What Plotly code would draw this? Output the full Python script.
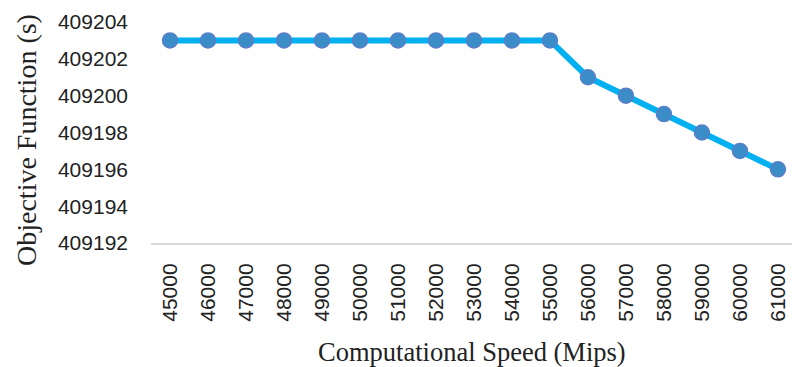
import plotly.graph_objects as go

speeds = ["45000", "46000", "47000", "48000", "49000", "50000", "51000", "52000",
          "53000", "54000", "55000", "56000", "57000", "58000", "59000", "60000", "61000"]
objective = [409203, 409203, 409203, 409203, 409203, 409203, 409203, 409203,
             409203, 409203, 409203, 409201, 409200, 409199, 409198, 409197, 409196]
y_ticks = [409192, 409194, 409196, 409198, 409200, 409202, 409204]

fig = go.Figure()
fig.add_trace(go.Scatter(
    x=list(range(len(speeds))), y=objective, mode="lines+markers",
    line=dict(color="#00B0F0", width=6),
    marker=dict(size=15, color="#3B8DC8", line=dict(color="#5A7EC8", width=1.5)),
    showlegend=False,
))

fig.update_layout(
    width=792, height=367,
    margin=dict(l=151, r=0, t=22, b=124),
    paper_bgcolor="white", plot_bgcolor="white",
    font=dict(family="Liberation Sans", size=21, color="#222222"),
    xaxis=dict(
        tickmode="array", tickvals=list(range(len(speeds))), ticktext=speeds,
        range=[-0.5, 16.37], tickangle=-90, showgrid=False, zeroline=False,
        showline=True, linecolor="#D9D9D9", linewidth=2, ticks="",
        ticklabelstandoff=10,
        tickfont=dict(family="Liberation Sans", size=21, color="#222222"),
    ),
    yaxis=dict(
        tickmode="array", tickvals=y_ticks, ticktext=[str(v) for v in y_ticks],
        range=[409192, 409204], showgrid=False, zeroline=False, showline=False,
        ticks="", ticklabelstandoff=22,
        tickfont=dict(family="Liberation Sans", size=21, color="#222222"),
    ),
    annotations=[
        dict(text="Computational Speed (Mips)", xref="paper", yref="paper",
             x=(472 - 151) / 641, y=0, yshift=-(352 - 243), showarrow=False,
             font=dict(family="Liberation Serif", size=26.5, color="#222222"),
             xanchor="center", yanchor="middle"),
        dict(text="Objective Function (s)", xref="paper", yref="paper",
             x=0, xshift=-(151 - 26), y=(243 - 140) / 221, textangle=-90,
             showarrow=False,
             font=dict(family="Liberation Serif", size=28, color="#222222"),
             xanchor="center", yanchor="middle"),
    ],
)

fig.write_html("out.html", config={"displayModeBar": False},
               post_script="document.body.style.margin='0';document.body.style.overflow='hidden';")
